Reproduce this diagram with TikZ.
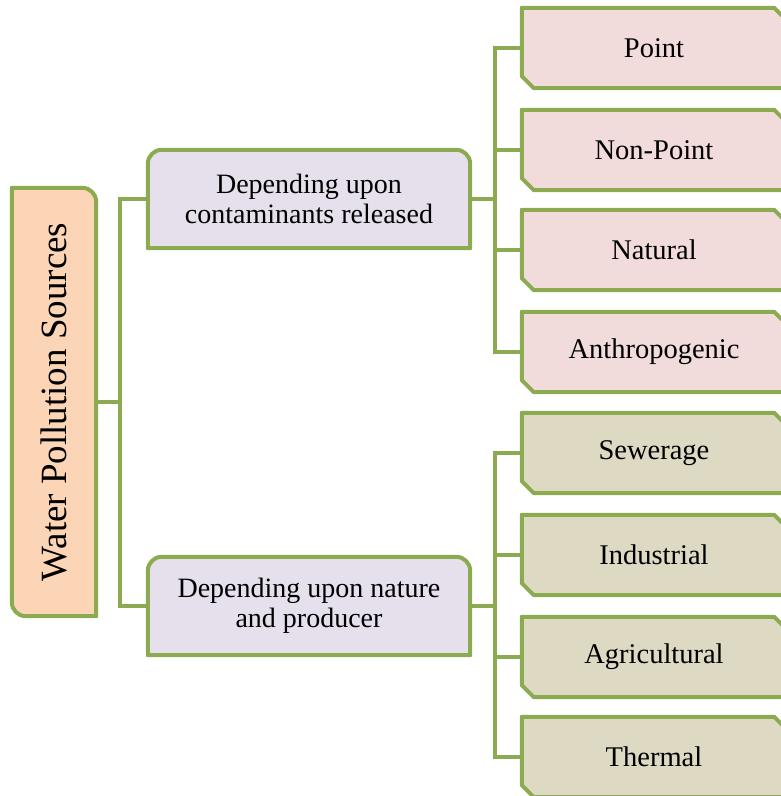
\documentclass[tikz,border=0pt]{standalone}
\usepackage{fontspec}
\setmainfont{Liberation Serif}
\usetikzlibrary{positioning, calc, backgrounds}
\definecolor{branch}{RGB}{140,170,80}
\definecolor{rootfill}{RGB}{251,213,181}
\definecolor{midfill}{RGB}{229,224,236}
\definecolor{pinkfill}{RGB}{242,220,219}
\definecolor{tanfill}{RGB}{221,217,195}
\tikzset{
  frame/.style={draw=branch, line width=4pt, line join=round},
  link/.style={draw=branch, line width=4pt},
  rootbox/.style={minimum width=84pt, minimum height=428pt, inner sep=0pt,
    font=\fontsize{37}{42}\selectfont},
  midbox/.style={minimum width=322pt, minimum height=98pt, inner sep=0pt,
    align=center, font=\fontsize{28}{30}\selectfont},
  leafbox/.style={minimum width=264pt, minimum height=80pt, inner sep=0pt,
    font=\fontsize{28.5}{30}\selectfont},
}

\begin{document}
\begin{tikzpicture}[x=1pt, y=1pt]
    \useasboundingbox (0,0) rectangle (780,796);

    \node[rootbox] (root) at (54,394) {\rotatebox{90}{Water Pollution Sources}};
    \node[midbox] (mid1) at (309,597) {Depending upon\\contaminants released};
    \node[midbox] (mid2) at (309,190) {Depending upon nature\\and producer};

    \foreach \i/\t/\yy in {1/Point/748, 2/Non-Point/646, 3/Natural/546, 4/Anthropogenic/444}
        \node[leafbox] (a\i) at (654,\yy) {\t};
    \foreach \i/\t/\yy in {1/Sewerage/343, 2/Industrial/241, 3/Agricultural/139, 4/Thermal/39}
        \node[leafbox] (b\i) at (654,\yy) {\t};

    \begin{scope}[on background layer]
        % branches
        \draw[link] (root.east) -- ++(24,0) coordinate (j0);
        \draw[link] (j0) |- (mid1.west);
        \draw[link] (j0) |- (mid2.west);
        \draw[link] (mid1.east) -- ++(25,0) coordinate (j1);
        \draw[link] (mid2.east) -- ++(25,0) coordinate (j2);
        \foreach \i in {1,...,4} {
            \draw[link] (j1) |- (a\i.west);
            \draw[link] (j2) |- (b\i.west);
        }

        % boxes
        \draw[frame, fill=rootfill] ($(root.south west)+(0,14)$) -- (root.north west)
            -- ($(root.north east)+(-14,0)$) arc[start angle=90, end angle=0, radius=14pt]
            -- (root.south east) -- ($(root.south west)+(14,0)$)
            arc[start angle=270, end angle=180, radius=14pt] -- cycle;
        \foreach \m in {mid1, mid2}
            \draw[frame, fill=midfill] (\m.south west) -- ($(\m.north west)+(0,-14)$)
                arc[start angle=180, end angle=90, radius=14pt]
                -- ($(\m.north east)+(-14,0)$) arc[start angle=90, end angle=0, radius=14pt]
                -- (\m.south east) -- cycle;
        \foreach \l/\c in {a1/pinkfill, a2/pinkfill, a3/pinkfill, a4/pinkfill,
                           b1/tanfill, b2/tanfill, b3/tanfill, b4/tanfill}
            \draw[frame, fill=\c] ($(\l.south west)+(0,12)$) -- (\l.north west)
                -- ($(\l.north east)+(-12,0)$) -- ($(\l.north east)+(0,-12)$)
                -- (\l.south east) -- ($(\l.south west)+(12,0)$) -- cycle;
    \end{scope}
\end{tikzpicture}
\end{document}
